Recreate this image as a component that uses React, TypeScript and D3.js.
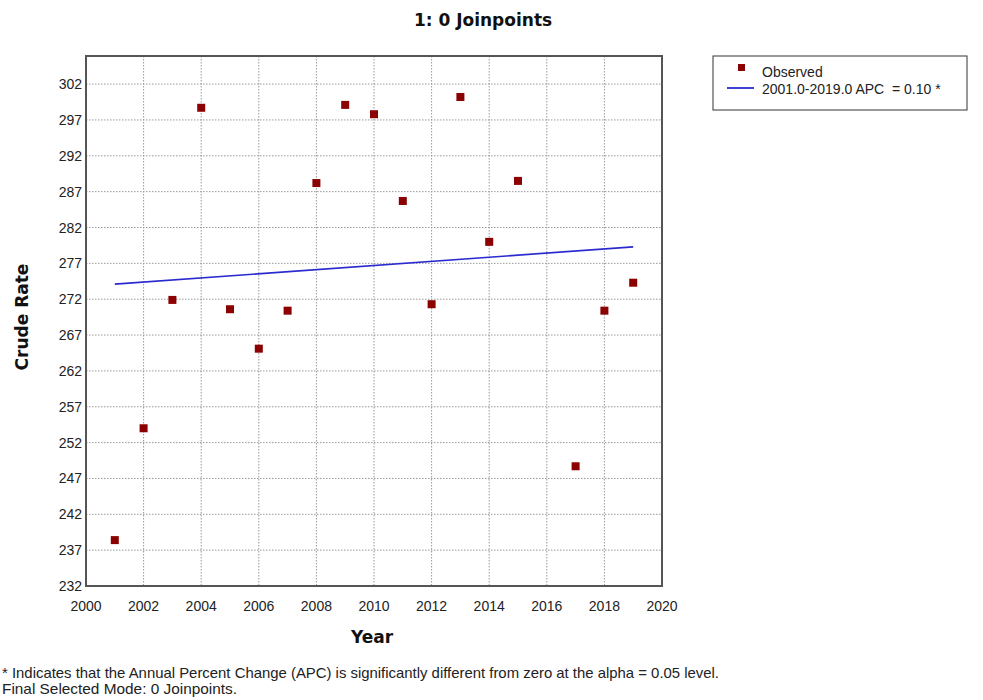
import React from "react";
import * as d3 from "d3";

const years = [2001, 2002, 2003, 2004, 2005, 2006, 2007, 2008, 2009, 2010, 2011, 2012, 2013, 2014, 2015, 2017, 2018, 2019];
const observed = [238.4, 254.0, 271.9, 298.7, 270.6, 265.1, 270.4, 288.2, 299.1, 297.8, 285.7, 271.3, 300.2, 280.0, 288.5, 248.7, 270.4, 274.3];
const fitYears = [2001, 2019];
const fitValues = [274.1, 279.3];
const xTicks = [2000, 2002, 2004, 2006, 2008, 2010, 2012, 2014, 2016, 2018, 2020];
const yTicks = [232, 237, 242, 247, 252, 257, 262, 267, 272, 277, 282, 287, 292, 297, 302];

export default function App() {
  const W = 983, H = 700;
  const left = 86, right = 662, top = 56, bottom = 586;
  const x = d3.scaleLinear().domain([2000, 2020]).range([left, right]);
  const y = d3.scaleLinear().domain([232, 232 + (bottom - top) / 7.17]).range([bottom, top]);
  const line = d3.line<number>().x((_, i) => x(fitYears[i])).y((d) => y(d));
  const tickFont = "'Liberation Sans', Arial, sans-serif";
  const boldFont = "'DejaVu Sans', Verdana, sans-serif";
  return (
    <svg width={W} height={H} style={{ position: "absolute", left: 0, top: 0, background: "#fff" }}>
      <rect x={0} y={0} width={W} height={H} fill="#fff" />
      <text x={483} y={26} textAnchor="middle" fontFamily={boldFont} fontWeight="bold" fontSize={17} fill="#111">1: 0 Joinpoints</text>
      {/* grid */}
      {xTicks.slice(1, -1).map((t) => (
        <line key={"gx" + t} x1={x(t)} x2={x(t)} y1={top} y2={bottom} stroke="#999" strokeWidth={1} strokeDasharray="1.5,1.5" />
      ))}
      {yTicks.slice(1).map((t) => (
        <line key={"gy" + t} x1={left} x2={right} y1={y(t)} y2={y(t)} stroke="#999" strokeWidth={1} strokeDasharray="1.5,1.5" />
      ))}
      <rect x={left} y={top} width={right - left} height={bottom - top} fill="none" stroke="#555" strokeWidth={2} />
      {/* ticks */}
      {yTicks.map((t) => (
        <text key={"ty" + t} x={82} y={y(t) + 5} textAnchor="end" fontFamily={tickFont} fontSize={14} fill="#222">{t}</text>
      ))}
      {xTicks.map((t) => (
        <text key={"tx" + t} x={x(t)} y={611} textAnchor="middle" fontFamily={tickFont} fontSize={14} fill="#222">{t}</text>
      ))}
      <text x={372} y={643} textAnchor="middle" fontFamily={boldFont} fontWeight="bold" fontSize={17} fill="#111">Year</text>
      <text transform={`translate(28,317) rotate(-90)`} textAnchor="middle" fontFamily={boldFont} fontWeight="bold" fontSize={17} fill="#111">Crude Rate</text>
      {/* fit line */}
      <path d={line(fitValues) || ""} fill="none" stroke="#2a2ad0" strokeWidth={1.6} />
      {/* points */}
      {years.map((yr, i) => (
        <rect key={"p" + yr} x={x(yr) - 4} y={y(observed[i]) - 4} width={8} height={8} fill="#8b0000" />
      ))}
      {/* legend */}
      <rect x={713} y={56} width={254} height={54} fill="#fff" stroke="#333" strokeWidth={1} />
      <rect x={738} y={64} width={7} height={7} fill="#8b0000" />
      <text x={762} y={77} fontFamily={tickFont} fontSize={14} fill="#222">Observed</text>
      <line x1={727} x2={754} y1={88} y2={88} stroke="#2a2ad0" strokeWidth={1.8} />
      <text x={762} y={94} fontFamily={tickFont} fontSize={14} fill="#222" style={{ whiteSpace: "pre" }}>2001.0-2019.0 APC  = 0.10 *</text>
      {/* footnote */}
      <text x={2} y={678} fontFamily={tickFont} fontSize={14.5} fill="#222" textLength={717} lengthAdjust="spacingAndGlyphs">* Indicates that the Annual Percent Change (APC) is significantly different from zero at the alpha = 0.05 level.</text>
      <text x={2} y={694} fontFamily={tickFont} fontSize={14.5} fill="#222" textLength={235} lengthAdjust="spacingAndGlyphs">Final Selected Mode: 0 Joinpoints.</text>
    </svg>
  );
}
